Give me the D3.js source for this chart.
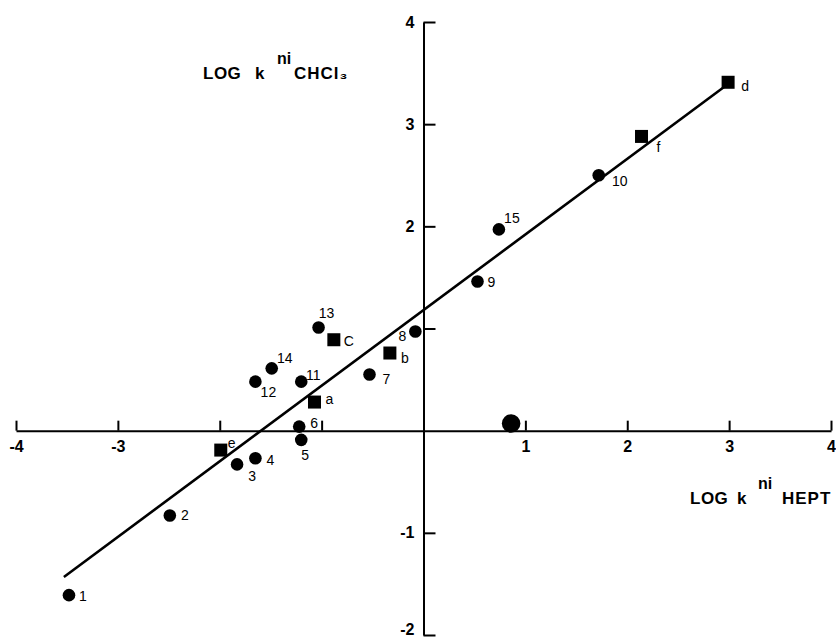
<!DOCTYPE html>
<html>
<head>
<meta charset="utf-8">
<script src="https://cdn.jsdelivr.net/npm/d3@7"></script>
<style>
  body{margin:0;background:#fff;}
  svg{display:block;}
  .tick text{font-family:"Liberation Sans",Arial,sans-serif;font-weight:bold;font-size:16px;fill:#000;}
  .lbl{font-family:"Liberation Sans",Arial,sans-serif;font-size:14px;fill:#000;}
  .title{font-family:"Liberation Sans",Arial,sans-serif;font-weight:bold;font-size:17px;fill:#000;}
</style>
</head>
<body>
<svg id="chart" width="836" height="639"></svg>
<script>
// data (log k values)
const circleNames=["1","2","3","4","5","6","7","8","9","10","11","12","13","14","15"];
const circleX=[-3.48,-2.49,-1.83,-1.65,-1.20,-1.22,-0.53,-0.08,0.53,1.72,-1.20,-1.65,-1.03,-1.49,0.74];
const circleY=[-1.61,-0.83,-0.33,-0.27,-0.09,0.04,0.55,0.97,1.46,2.50,0.48,0.48,1.01,0.61,1.97];
const squareNames=["a","b","C","d","e","f"];
const squareX=[-1.07,-0.33,-0.88,2.99,-1.99,2.14];
const squareY=[0.28,0.76,0.89,3.41,-0.19,2.88];
const bigPoint=[0.86,0.07];
const fitLine={slope:0.74,intercept:1.18,from:-3.53,to:2.96};
const xTicks=[-4,-3,-2,-1,1,2,3,4];
const yTicks=[-2,-1,1,2,3,4];
const xTickLabels=[-4,-3,1,2,3,4];   // -2 and -1 are hidden by points in the original
const yTickLabels=[-2,-1,2,3,4];     // 1 is hidden by point 8

// label nudges in px (layout only)
const circleLabelOff=[[14,1],[15,0],[15,12],[15,2],[4,15],[15,-4],[17,5],[-13,4],[14,0],[21,6],[12,-7],[13,10],[8,-14],[13,-10],[13,-11]];
const squareLabelOff=[[15,-3],[15,5],[15,1],[17,4],[11,-7],[17,11]];

const svg=d3.select("#chart");
const x=d3.scaleLinear().domain([-4,4]).range([16,831]);
const y=d3.scaleLinear().domain([-2,4]).range([635,22]);

// x axis: ticks upward, labels below
const gx=svg.append("g").attr("transform",`translate(0,${y(0)})`)
  .call(d3.axisBottom(x).tickValues(xTicks).tickSizeInner(-10).tickSizeOuter(0).tickPadding(10)
    .tickFormat(d=>xTickLabels.includes(d)?String(d):""));
gx.select(".domain").attr("stroke","#000").attr("stroke-width",2);
gx.selectAll(".tick line").attr("stroke","#000").attr("stroke-width",2);

// y axis: ticks to the right, labels left
const gy=svg.append("g").attr("transform",`translate(${x(0)},0)`)
  .call(d3.axisLeft(y).tickValues(yTicks).tickSizeInner(-12).tickSizeOuter(0).tickPadding(9)
    .tickFormat(d=>yTickLabels.includes(d)?String(d):""));
gy.select(".domain").attr("stroke","#000").attr("stroke-width",2);
gy.selectAll(".tick line").attr("stroke","#000").attr("stroke-width",2);
gy.selectAll(".tick text").filter(d=>d===-2).attr("dy","-0.05em");

// regression line
svg.append("line")
  .attr("x1",x(fitLine.from)).attr("y1",y(fitLine.intercept+fitLine.slope*fitLine.from))
  .attr("x2",x(fitLine.to)).attr("y2",y(fitLine.intercept+fitLine.slope*fitLine.to))
  .attr("stroke","#000").attr("stroke-width",2.6);

// circles
const circles=circleNames.map((n,i)=>({n,x:circleX[i],y:circleY[i],off:circleLabelOff[i]}));
svg.selectAll("circle.pt").data(circles).join("circle").attr("class","pt")
  .attr("cx",d=>x(d.x)).attr("cy",d=>y(d.y)).attr("r",6.3).attr("fill","#000");
svg.selectAll("text.cl").data(circles).join("text").attr("class","lbl cl")
  .attr("x",d=>x(d.x)+d.off[0]).attr("y",d=>y(d.y)+d.off[1])
  .attr("text-anchor","middle").attr("dominant-baseline","central").text(d=>d.n);

// squares
const squares=squareNames.map((n,i)=>({n,x:squareX[i],y:squareY[i],off:squareLabelOff[i]}));
svg.selectAll("rect.sq").data(squares).join("rect").attr("class","sq")
  .attr("x",d=>x(d.x)-6.5).attr("y",d=>y(d.y)-6.5).attr("width",13).attr("height",13).attr("fill","#000");
svg.selectAll("text.sl").data(squares).join("text").attr("class","lbl sl")
  .attr("x",d=>x(d.x)+d.off[0]).attr("y",d=>y(d.y)+d.off[1])
  .attr("text-anchor","middle").attr("dominant-baseline","central").text(d=>d.n);

// large unlabelled point
svg.append("circle").attr("cx",x(bigPoint[0])).attr("cy",y(bigPoint[1])).attr("r",9.3).attr("fill","#000");

// axis titles: LOG k^ni <solvent>
function title(xs,base,sub){
  const g=svg.append("g").attr("class","title");
  g.append("text").attr("x",xs[0]).attr("y",base).attr("letter-spacing",0.5).text("LOG");
  g.append("text").attr("x",xs[1]).attr("y",base).text("k");
  g.append("text").attr("x",xs[2]).attr("y",base-15).attr("font-size",16).text("ni");
  g.append("text").attr("x",xs[3]).attr("y",base).attr("letter-spacing",1).text(sub);
}
title([203,255,277,294],79,"CHCl\u2083");
title([690,737,758,782],504,"HEPT");
</script>
</body>
</html>
